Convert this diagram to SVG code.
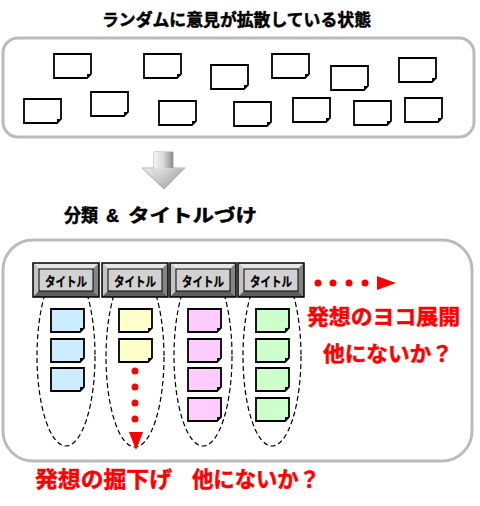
<svg xmlns="http://www.w3.org/2000/svg" xmlns:xlink="http://www.w3.org/1999/xlink" width="480" height="506" viewBox="0 0 480 506">
<style>
.t{font-family:"Liberation Sans","Noto Sans CJK JP",sans-serif;font-weight:bold;stroke:#000;stroke-width:0.5;paint-order:stroke;}
.frame{fill:#fff;stroke:#BBBBBB;stroke-width:3;}
.note{stroke:#000;stroke-width:1.8;stroke-linejoin:miter;}
.fold{fill:#000;}
.ell{fill:none;stroke:#000;stroke-width:1.2;stroke-dasharray:5,3;}
.red{fill:#FF0000;}
text.red{stroke:#FF0000;}
.btnText{font-size:13px;fill:#000;stroke-width:0.3;}
</style>
<defs>
<linearGradient id="ag" x1="0" y1="0" x2="1" y2="0">
<stop offset="0" stop-color="#f4f4f4"/>
<stop offset="0.5" stop-color="#d8d8d8"/>
<stop offset="1" stop-color="#8c8c8c"/>
</linearGradient>
<linearGradient id="ahg" x1="0" y1="0" x2="0" y2="1">
<stop offset="0" stop-color="#e0e0e0"/>
<stop offset="1" stop-color="#909090"/>
</linearGradient>
<g id="n1"><path class="note" fill="#fff" d="M0,0 H37 V20 L33,24 H0 Z"/><path class="fold" d="M33,24 L37,20 L33,20 Z"/></g>
<g id="n2"><path class="note" d="M0,0 H33 V19 L29,23 H0 Z"/><path class="fold" d="M29,23 L33,19 L29,19 Z"/></g>
<g id="btn">
<rect x="0" y="0" width="66" height="34" fill="#999"/>
<polygon points="0,0 66,0 60,6 6,6" fill="#E6E6E6"/>
<polygon points="0,0 6,6 6,28 0,34" fill="#C4C4C4"/>
<polygon points="0,34 6,28 60,28 66,34" fill="#5E5E5E"/>
<polygon points="66,0 66,34 60,28 60,6" fill="#858585"/>
<rect x="6" y="6" width="54" height="22" fill="#D2D2D2" stroke="#000" stroke-width="1"/>
<rect x="0" y="0" width="66" height="34" fill="none" stroke="#000" stroke-width="1.5"/>
<text class="t btnText" x="12" y="22.5" textLength="42" lengthAdjust="spacingAndGlyphs">タイトル</text>
</g>
</defs>
<rect width="480" height="506" fill="#fff"/>

<g id="title1"><text class="t" x="102" y="26" font-size="16.5" textLength="269" lengthAdjust="spacingAndGlyphs">ランダムに意見が拡散している状態</text></g>

<g id="scatterBox">
<rect class="frame" x="3" y="38" width="471" height="99" rx="15"/>
<use xlink:href="#n1" x="54" y="54"/>
<use xlink:href="#n1" x="144" y="54"/>
<use xlink:href="#n1" x="211" y="65"/>
<use xlink:href="#n1" x="272" y="54"/>
<use xlink:href="#n1" x="331" y="66"/>
<use xlink:href="#n1" x="399" y="58"/>
<use xlink:href="#n1" x="24" y="99"/>
<use xlink:href="#n1" x="91" y="92"/>
<use xlink:href="#n1" x="159" y="101"/>
<use xlink:href="#n1" x="234" y="102"/>
<use xlink:href="#n1" x="293" y="98"/>
<use xlink:href="#n1" x="354" y="101"/>
<use xlink:href="#n1" x="405" y="98"/>
</g>

<g id="downArrow">
<path d="M154,152 H173 V168 H185 L164,189 L142,168 H154 Z" fill="url(#ag)" stroke="#a8a8a8" stroke-width="1"/>
<path d="M154,152 H173 V168 H154 Z" fill="url(#ag)"/>
<path d="M142,168 L185,168 L164,189 Z" fill="url(#ahg)" opacity="0.5"/>
</g>

<g id="title2">
<text class="t" x="64" y="222" font-size="18" textLength="34" lengthAdjust="spacingAndGlyphs">分類</text>
<text class="t" x="106" y="222" font-size="18">&amp;</text>
<text class="t" x="128" y="222" font-size="18" textLength="129" lengthAdjust="spacingAndGlyphs">タイトルづけ</text>
</g>

<g id="groupBox">
<rect class="frame" x="3" y="240" width="469" height="221" rx="30"/>
</g>

<g id="connectors">
<ellipse class="ell" cx="66" cy="356" rx="29" ry="90"/>
<ellipse class="ell" cx="135" cy="357" rx="29" ry="90"/>
<ellipse class="ell" cx="203" cy="356" rx="29" ry="90"/>
<ellipse class="ell" cx="272" cy="356" rx="29" ry="90"/>
<g id="vDots" class="red">
<circle cx="135" cy="371" r="3.5"/><circle cx="135" cy="387" r="3.5"/><circle cx="135" cy="403" r="3.5"/><circle cx="135" cy="419" r="3.5"/>
<polygon points="129,432 143,432 136,450"/>
</g>
<g id="hDots" class="red">
<circle cx="318" cy="283" r="3.5"/><circle cx="333" cy="283" r="3.5"/><circle cx="349" cy="283" r="3.5"/><circle cx="365" cy="283" r="3.5"/>
<polygon points="377,276 377,290 396,283"/>
</g>
</g>

<g id="col1">
<use xlink:href="#btn" x="33" y="263"/>
<use xlink:href="#n2" x="51" y="309" fill="#CCECFF"/>
<use xlink:href="#n2" x="51" y="339" fill="#CCECFF"/>
<use xlink:href="#n2" x="51" y="368" fill="#CCECFF"/>
</g>
<g id="col2">
<use xlink:href="#btn" x="102" y="263"/>
<use xlink:href="#n2" x="119" y="309" fill="#FFFFCC"/>
<use xlink:href="#n2" x="119" y="339" fill="#FFFFCC"/>
</g>
<g id="col3">
<use xlink:href="#btn" x="170" y="263"/>
<use xlink:href="#n2" x="188" y="309" fill="#FFCCFF"/>
<use xlink:href="#n2" x="188" y="339" fill="#FFCCFF"/>
<use xlink:href="#n2" x="188" y="368" fill="#FFCCFF"/>
<use xlink:href="#n2" x="188" y="398" fill="#FFCCFF"/>
</g>
<g id="col4">
<use xlink:href="#btn" x="238" y="263"/>
<use xlink:href="#n2" x="256" y="309" fill="#CCFFCC"/>
<use xlink:href="#n2" x="256" y="339" fill="#CCFFCC"/>
<use xlink:href="#n2" x="256" y="368" fill="#CCFFCC"/>
<use xlink:href="#n2" x="256" y="398" fill="#CCFFCC"/>
</g>

<g id="labelYoko">
<text class="t red" x="307" y="324" font-size="21" textLength="153" lengthAdjust="spacingAndGlyphs">発想のヨコ展開</text>
<text class="t red" x="323" y="361" font-size="21" textLength="130" lengthAdjust="spacingAndGlyphs">他にないか？</text>
</g>
<g id="labelHori">
<text class="t red" x="35" y="487" font-size="22" textLength="137" lengthAdjust="spacingAndGlyphs">発想の掘下げ</text>
<text class="t red" x="192" y="487" font-size="22" textLength="128" lengthAdjust="spacingAndGlyphs">他にないか？</text>
</g>
</svg>
